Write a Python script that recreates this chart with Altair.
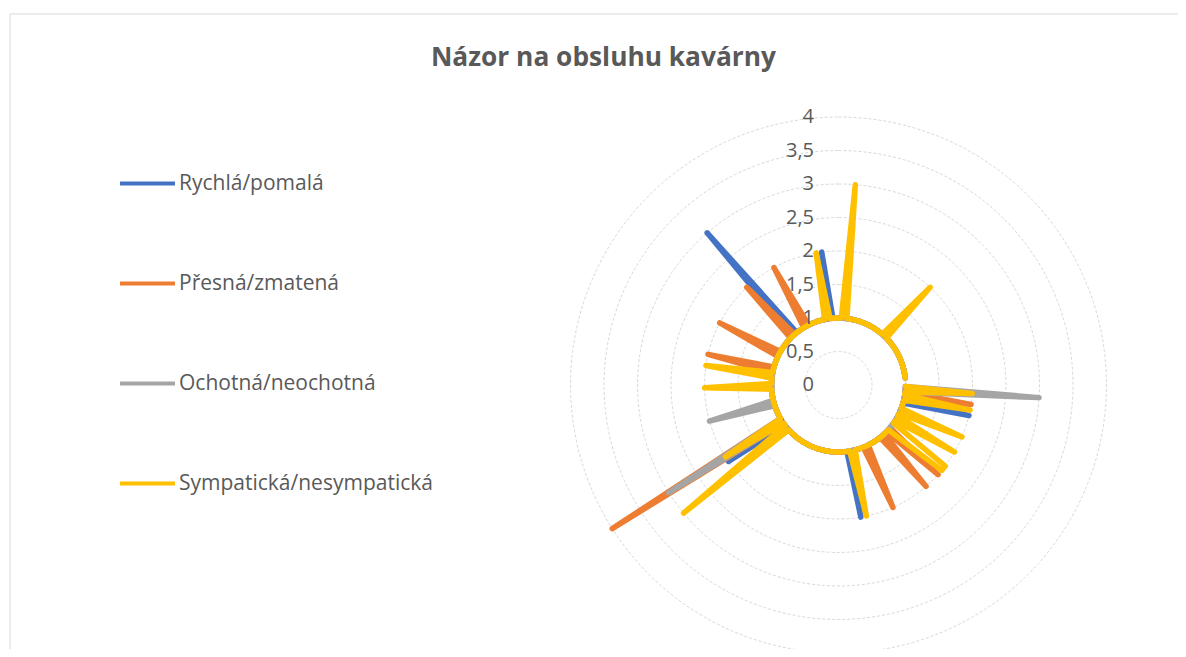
import altair as alt
import pandas as pd

TITLE = "Názor na obsluhu kavárny"
SERIES = ["Rychlá/pomalá", "Přesná/zmatená", "Ochotná/neochotná", "Sympatická/nesympatická"]
COLORS = ["#4472C4", "#ED7D31", "#A5A5A5", "#FFC000"]
N_CAT = 150  # respondents (categories around the radar)

# values per respondent (index 0 at 12 o'clock, clockwise); None = no answer
rychla = [1, 1, 1, 1, 1, 1, 1, 1, 1, 1,
          1, 1, 1, 1, 1, 1, 1, 1, 1, 1,
          1, 1, 1, 1, 1, 1, 1, 1, 1, 1,
          1, 1, 1, 1, 1, 1, None, None, 1, 1,
          1, 1, 1, 2, 1, 1, 1, 1, 1, 1,
          1, 1, 1, 1, 1, 1, 1, 1, 1, 1,
          1, 1, 1, 1, 1, 1, 1, 1, 1, 1,
          1, 2, 1, 1, 1, 1, 1, 1, 1, 1,
          1, 1, 1, 1, 1, 1, 1, 1, 1, 1,
          1, 1, 1, 1, 1, 1, 1, 1, 2, 1,
          1, 1, 1, 1, 1, 1, 1, 1, 1, 1,
          1, 1, 1, 1, 1, 1, 1, 1, 1, 1,
          1, 1, 1, 1, 1, 1, 1, 1, 1, 1,
          1, 1, 1, 3, 1, 1, 1, 1, 1, 1,
          1, 1, 1, 1, 1, 1, 1, 2, 1, 1]
presna = [1, 1, 1, 1, 1, 1, 1, 1, 1, 1,
          1, 1, 1, 1, 1, 1, 1, 1, 1, 1,
          1, 1, 1, 1, 1, 1, 1, 1, 1, 1,
          1, 1, 1, 1, 1, 1, None, None, 1, 1,
          1, 2, 1, 1, 1, 1, 1, 1, 1, 1,
          1, 1, 1, 1, 1, 2, 1, 1, 2, 1,
          1, 1, 1, 1, 1, 2, 1, 1, 1, 1,
          1, 1, 1, 1, 1, 1, 1, 1, 1, 1,
          1, 1, 1, 1, 1, 1, 1, 1, 1, 1,
          1, 1, 1, 1, 1, 1, 1, 1, 1, 4,
          1, 1, 1, 1, 1, 1, 1, 1, 1, 1,
          1, 1, 1, 1, 1, 1, 1, 1, 2, 1,
          1, 1, 1, 1, 2, 1, 1, 1, 1, 1,
          1, 1, 2, 1, 1, 1, 1, 1, 2, 1,
          1, 1, 1, 1, 1, 1, 1, 1, 1, 1]
ochotna = [1, 1, 1, 1, 1, 1, 1, 1, 1, 1,
           1, 1, 1, 1, 1, 1, 1, 1, 1, 1,
           1, 1, 1, 1, 1, 1, 1, 1, 1, 1,
           1, 1, 1, 1, 1, 1, None, None, 1, 3,
           1, 1, 1, 1, 1, 1, 1, 1, 1, 1,
           1, 1, 1, 1, 1, 1, 1, 1, 1, 1,
           1, 1, 1, 1, 1, 1, 1, 1, 1, 1,
           1, 1, 1, 1, 1, 1, 1, 1, 1, 1,
           1, 1, 1, 1, 1, 1, 1, 1, 1, 1,
           1, 1, 1, 1, 1, 1, 1, 1, 1, 3,
           1, 1, 1, 1, 1, 1, 2, 1, 1, 1,
           1, 1, 1, 1, 1, 1, 1, 1, 1, 1,
           1, 1, 1, 1, 1, 1, 1, 1, 1, 1,
           1, 1, 1, 1, 1, 1, 1, 1, 1, 1,
           1, 1, 1, 1, 1, 1, 1, 1, 1, 1]
sympaticka = [1, 1, 3, 1, 1, 1, 1, 1, 1, 1,
              1, 1, 1, 1, 1, 1, 1, 1, 2, 1,
              1, 1, 1, 1, 1, 1, 1, 1, 1, 1,
              1, 1, 1, 1, 1, 1, None, None, 1, 2,
              1, 1, 2, 1, 1, 1, 1, 2, 1, 1,
              2, 1, 1, 2, 2, 1, 1, 1, 1, 1,
              1, 1, 1, 1, 1, 1, 1, 1, 1, 1,
              2, 1, 1, 1, 1, 1, 1, 1, 1, 1,
              1, 1, 1, 1, 1, 1, 1, 1, 1, 1,
              1, 1, 1, 1, 1, 1, 3, 1, 1, 2,
              1, 1, 1, 1, 1, 1, 1, 1, 1, 1,
              1, 1, 2, 1, 1, 1, 2, 1, 1, 1,
              1, 1, 1, 1, 1, 1, 1, 1, 1, 1,
              1, 1, 1, 1, 1, 1, 1, 1, 1, 1,
              1, 1, 1, 1, 1, 1, 2, 1, 1, 1]

RINGS = [0.5, 1, 1.5, 2, 2.5, 3, 3.5, 4]
TICK_VALUES = [0, 0.5, 1, 1.5, 2, 2.5, 3, 3.5, 4]
TICK_LABELS = ["0", "0,5", "1", "1,5", "2", "2,5", "3", "3,5", "4"]

# ---- layout (pixels inside the chart) ----
W, H = 1170, 641
CX, CY = 830.5, 377.0      # radar centre
UNIT = 67.0                # pixels per value unit
XDOM = [-CX / UNIT, (W - CX) / UNIT]
YDOM = [(CY - H) / UNIT, CY / UNIT]
FONT = "Open Sans"
TXT = "#595959"

rows = []
for name, vals in zip(SERIES, [rychla, presna, ochotna, sympaticka]):
    for i in range(N_CAT + 1):  # close the loop
        rows.append({"series": name, "idx": i, "value": vals[i % N_CAT]})
df = pd.DataFrame(rows)

xs = alt.Scale(domain=XDOM, nice=False, zero=False)
ys = alt.Scale(domain=YDOM, nice=False, zero=False)

frame = alt.Chart(alt.Data(values=[{"a": 1}])).mark_rect(
    fill=None, stroke="#D9D9D9", strokeWidth=1
).encode(x=alt.value(2), x2=alt.value(1200), y=alt.value(6), y2=alt.value(700))

grid = alt.Chart(pd.DataFrame({"r": RINGS})).transform_calculate(
    a="sequence(0, 362, 2)"
).transform_flatten(["a"]).transform_calculate(
    gx="datum.r * sin(datum.a * PI / 180)",
    gy="datum.r * cos(datum.a * PI / 180)",
).mark_line(stroke="#D9D9D9", strokeWidth=1, strokeDash=[3, 2]).encode(
    x=alt.X("gx:Q", scale=xs, axis=None),
    y=alt.Y("gy:Q", scale=ys, axis=None),
    detail="r:N",
    order="a:Q",
)

base = alt.Chart(df).transform_calculate(
    th="datum.idx * 2 * PI / %d" % N_CAT,
    px="isValid(datum.value) ? datum.value * sin(datum.th) : null",
    py="isValid(datum.value) ? datum.value * cos(datum.th) : null",
)

color = alt.Color(
    "series:N",
    scale=alt.Scale(domain=SERIES, range=COLORS),
    legend=alt.Legend(
        title=None, orient="none", legendX=110, legendY=146,
        symbolType="stroke", symbolSize=3025, symbolStrokeWidth=4,
        labelFont=FONT, labelFontSize=21, labelColor=TXT, labelLimit=0,
        rowPadding=60, labelOffset=2, padding=0,
    ),
)

series_layers = []
for name in SERIES:
    series_layers.append(
        base.transform_filter(alt.datum.series == name).mark_line(
            strokeWidth=5.5, strokeCap="round", strokeJoin="round",
            invalid="break-paths-show-domains",
        ).encode(
            x=alt.X("px:Q", scale=xs, axis=None),
            y=alt.Y("py:Q", scale=ys, axis=None),
            color=color,
            order="idx:Q",
        )
    )

labels = alt.Chart(pd.DataFrame({"v": TICK_VALUES, "t": TICK_LABELS})).mark_text(
    align="right", baseline="middle", font=FONT, fontSize=20, color=TXT
).encode(
    x=alt.value(806),
    y=alt.Y("v:Q", scale=ys, axis=None),
    text="t:N",
)

title = alt.Chart(alt.Data(values=[{"t": TITLE}])).mark_text(
    align="center", baseline="middle", font=FONT, fontSize=26.3,
    fontWeight="bold", color=TXT
).encode(x=alt.value(595.5), y=alt.value(50), text="t:N")

chart = alt.layer(frame, grid, *series_layers, labels, title).properties(
    width=W, height=H, padding=0, autosize="none"
).configure_view(stroke=None)

chart.save("out.html", embed_options={"renderer": "svg", "actions": False})
